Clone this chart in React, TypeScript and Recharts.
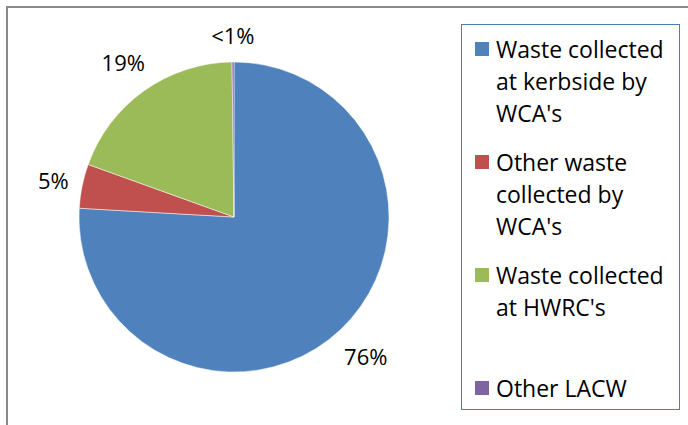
import React from "react";
import { PieChart, Pie, Cell, Legend } from "recharts";

const categories = [
  "Waste collected at kerbside by WCA's",
  "Other waste collected by WCA's",
  "Waste collected at HWRC's",
  "Other LACW",
];
const shares = [75.9, 4.6, 19.3, 0.2];
const colors = ["#4F81BD", "#C0504D", "#9BBB59", "#8064A2"];

const data = categories.map((name, i) => ({ name, value: shares[i] }));

const FONT = "'Open Sans', sans-serif";
const RADIAN = Math.PI / 180;

// labels sit just outside the rim, pushed out by the half-size of their box
const renderLabel = (props: any) => {
  const { cx, cy, midAngle, outerRadius, percent } = props;
  const pct = percent * 100;
  const text = pct < 1 ? "<1%" : `${Math.round(pct)}%`;
  const c = Math.cos(-midAngle * RADIAN);
  const s = Math.sin(-midAngle * RADIAN);
  const halfW = (text.length * 13) / 2;
  const halfH = 13;
  const r = outerRadius + 14 + halfW * Math.abs(c) + halfH * Math.abs(s);
  return (
    <text
      x={cx + r * c}
      y={cy + r * s}
      fill="#000"
      textAnchor="middle"
      dominantBaseline="central"
      fontSize={22}
      fontFamily={FONT}
    >
      {text}
    </text>
  );
};

// legend drawn from our own arrays so the order matches the slices
const renderLegend = () => (
  <div
    style={{
      width: 219,
      height: 386,
      border: "1.5px solid #4A7EBB",
      boxSizing: "border-box",
      paddingTop: 8,
      fontFamily: FONT,
      fontSize: 23,
      lineHeight: "32px",
      color: "#000",
      background: "#fff",
    }}
  >
    {categories.map((name, i) => (
      <div
        key={name}
        style={{
          display: "flex",
          alignItems: "flex-start",
          height: 113,
          paddingLeft: 13,
        }}
      >
        <span
          style={{
            display: "inline-block",
            width: 14,
            height: 14,
            marginTop: 9,
            marginRight: 7,
            flexShrink: 0,
            background: colors[i],
          }}
        />
        <span style={{ width: 178, whiteSpace: "normal" }}>{name}</span>
      </div>
    ))}
  </div>
);

export default function App() {
  return (
    <div
      style={{
        position: "absolute",
        left: 0,
        top: 0,
        width: 688,
        height: 425,
        overflow: "hidden",
        background: "#fff",
      }}
    >
      <div
        style={{
          position: "absolute",
          left: 6,
          top: 6,
          width: 720,
          height: 440,
          border: "2px solid #8A8A8A",
        }}
      />
      <PieChart width={688} height={425} style={{ position: "absolute", left: 0, top: 0 }}>
        <Pie
          data={data}
          dataKey="value"
          nameKey="name"
          cx={229}
          cy={212}
          outerRadius={155}
          startAngle={90}
          endAngle={-270}
          stroke="#fff"
          strokeWidth={0.5}
          label={renderLabel}
          labelLine={false}
          isAnimationActive={false}
        >
          {data.map((d, i) => (
            <Cell key={d.name} fill={colors[i]} />
          ))}
        </Pie>
        <Legend
          layout="vertical"
          content={renderLegend}
          wrapperStyle={{ position: "absolute", left: 461, top: 24, width: 219 }}
        />
      </PieChart>
    </div>
  );
}
